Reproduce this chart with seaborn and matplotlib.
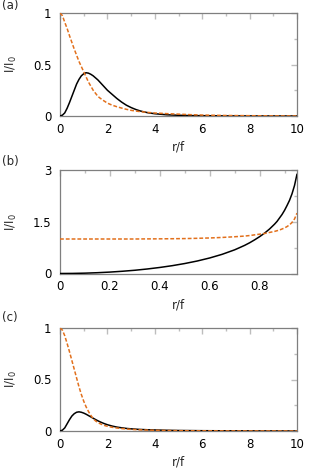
import numpy as np
import pandas as pd
import matplotlib
matplotlib.use("Agg")
import matplotlib.pyplot as plt
import seaborn as sns

# ---------------- data ----------------
r_a = [0, 0.1, 0.2, 0.3, 0.4, 0.5, 0.6, 0.7, 0.8, 0.9, 1.0, 1.1, 1.2, 1.3, 1.4, 1.5, 1.6,
       1.7, 1.8, 1.9, 2.0, 2.2, 2.4, 2.6, 2.8, 3.0, 3.2, 3.4, 3.7, 4.0, 4.5, 5.0, 5.5,
       6.0, 7.0, 8.0, 9.0, 10.0]
black_a = [0, 0.008, 0.03, 0.075, 0.13, 0.19, 0.25, 0.31, 0.355, 0.39, 0.41, 0.42, 0.416,
           0.405, 0.39, 0.37, 0.35, 0.325, 0.30, 0.275, 0.25, 0.21, 0.17, 0.135, 0.105,
           0.082, 0.063, 0.048, 0.032, 0.022, 0.012, 0.007, 0.004, 0.003, 0.001, 0.0005,
           0.0002, 0.0]
orange_a = [1.0, 0.975, 0.91, 0.85, 0.78, 0.715, 0.65, 0.59, 0.53, 0.48, 0.43, 0.38, 0.33,
            0.29, 0.25, 0.22, 0.19, 0.172, 0.155, 0.14, 0.125, 0.105, 0.09, 0.077, 0.065,
            0.055, 0.048, 0.042, 0.035, 0.029, 0.023, 0.018, 0.013, 0.009, 0.005, 0.003,
            0.001, 0.0]

r_b = [0, 0.05, 0.1, 0.15, 0.2, 0.25, 0.3, 0.35, 0.4, 0.45, 0.5, 0.55, 0.6, 0.65, 0.7,
       0.72, 0.74, 0.76, 0.78, 0.8, 0.82, 0.84, 0.86, 0.87, 0.88, 0.89, 0.9, 0.91, 0.92,
       0.93, 0.94, 0.95]
black_b = [0, 0.0025, 0.010, 0.023, 0.041, 0.065, 0.094, 0.131, 0.175, 0.227, 0.289, 0.362,
           0.45, 0.556, 0.686, 0.75, 0.815, 0.89, 0.975, 1.067, 1.17, 1.29, 1.43, 1.51,
           1.61, 1.71, 1.83, 1.97, 2.12, 2.31, 2.55, 2.88]
orange_b = [1.0, 1.0, 1.0, 1.0, 1.0, 1.0, 1.0, 1.003, 1.005, 1.008, 1.012, 1.02, 1.03,
            1.045, 1.065, 1.075, 1.085, 1.10, 1.12, 1.14, 1.16, 1.19, 1.22, 1.24, 1.26,
            1.29, 1.32, 1.36, 1.41, 1.48, 1.58, 1.75]

r_c = [0, 0.1, 0.2, 0.3, 0.4, 0.5, 0.6, 0.7, 0.8, 0.9, 1.0, 1.1, 1.2, 1.3, 1.4, 1.5, 1.6,
       1.7, 1.8, 1.9, 2.0, 2.2, 2.4, 2.6, 2.8, 3.0, 3.3, 3.7, 4.0, 4.5, 5.0, 6.0, 7.0,
       8.0, 9.0, 10.0]
black_c = [0, 0.008, 0.03, 0.07, 0.11, 0.145, 0.168, 0.182, 0.186, 0.182, 0.174, 0.163,
           0.15, 0.137, 0.124, 0.111, 0.099, 0.088, 0.078, 0.069, 0.061, 0.048, 0.038,
           0.031, 0.025, 0.021, 0.016, 0.012, 0.01, 0.007, 0.005, 0.003, 0.002, 0.001,
           0.0005, 0.0]
orange_c = [1.0, 0.98, 0.925, 0.85, 0.77, 0.685, 0.60, 0.515, 0.43, 0.355, 0.29, 0.235,
            0.19, 0.152, 0.12, 0.098, 0.082, 0.07, 0.06, 0.052, 0.046, 0.036, 0.029,
            0.024, 0.019, 0.016, 0.012, 0.009, 0.007, 0.005, 0.003, 0.002, 0.001, 0.0005,
            0.0002, 0.0]

panel_labels = ["(a)", "(b)", "(c)"]
x_label = "r/f"
y_label = "I/I$_0$"

# ---------------- style ----------------
sns.set_theme(style="white")
plt.rcParams["font.family"] = ["DejaVu Sans"]
FS = 8.5
ORANGE = "#e2701c"
FRAME = "#7f7f7f"

fig = plt.figure(figsize=(3.14, 4.72), dpi=100)

panels = [
    dict(r=r_a, k=black_a, o=orange_a, pos=[60/314, 1-116/472, 237/314, 103/472],
         xlim=(0, 10), xt=[0, 2, 4, 6, 8, 10], xl=["0", "2", "4", "6", "8", "10"],
         xm=[1, 3, 5, 7, 9], ylim=(0, 1), yt=[0, 0.5, 1], yl=["0", "0.5", "1"], ym=[0.25, 0.75],
         lab_y=1-6/472),
    dict(r=r_b, k=black_b, o=orange_b, pos=[60/314, 1-273.5/472, 237/314, 103.5/472],
         xlim=(0, 0.95), xt=[0, 0.2, 0.4, 0.6, 0.8], xl=["0", "0.2", "0.4", "0.6", "0.8"],
         xm=[0.1, 0.3, 0.5, 0.7, 0.9], ylim=(0, 3), yt=[0, 1.5, 3], yl=["0", "1.5", "3"],
         ym=[0.75, 2.25], lab_y=1-161/472),
    dict(r=r_c, k=black_c, o=orange_c, pos=[60/314, 1-431/472, 237/314, 103/472],
         xlim=(0, 10), xt=[0, 2, 4, 6, 8, 10], xl=["0", "2", "4", "6", "8", "10"],
         xm=[1, 3, 5, 7, 9], ylim=(0, 1), yt=[0, 0.5, 1], yl=["0", "0.5", "1"], ym=[0.25, 0.75],
         lab_y=1-318/472),
]

for p, lab in zip(panels, panel_labels):
    ax = fig.add_axes(p["pos"])
    df = pd.DataFrame({"r": p["r"], "black": p["k"], "orange": p["o"]})
    sns.lineplot(data=df, x="r", y="black", ax=ax, color="black", lw=1.1,
                 sort=False, zorder=3)
    sns.lineplot(data=df, x="r", y="orange", ax=ax, color=ORANGE, lw=1.1,
                 sort=False, dashes=False, zorder=4, linestyle=(0, (2.5, 1.3)))
    ax.set_xlim(*p["xlim"])
    ax.set_ylim(*p["ylim"])
    ax.set_xticks(p["xt"])
    ax.set_xticklabels(p["xl"], fontsize=FS)
    ax.set_yticks(p["yt"])
    ax.set_yticklabels(p["yl"], fontsize=FS)
    ax.set_xticks(p["xm"], minor=True)
    ax.set_yticks(p["ym"], minor=True)
    ax.tick_params(which="both", direction="in", top=True, right=True,
                   color="#bdbdbd", width=1.0)
    ax.tick_params(which="major", length=4, pad=6, labelcolor="black")
    ax.tick_params(which="minor", length=2.5)
    ax.tick_params(axis="x", which="major", pad=5)
    for s in ax.spines.values():
        s.set_color(FRAME)
        s.set_linewidth(0.9)
    ax.set_xlabel(x_label, fontsize=FS, labelpad=3.5)
    ax.set_ylabel(y_label, fontsize=FS, labelpad=10)
    fig.text(2/314, p["lab_y"], lab, fontsize=FS, ha="left", va="center")

fig.savefig("out.png", dpi=100)
